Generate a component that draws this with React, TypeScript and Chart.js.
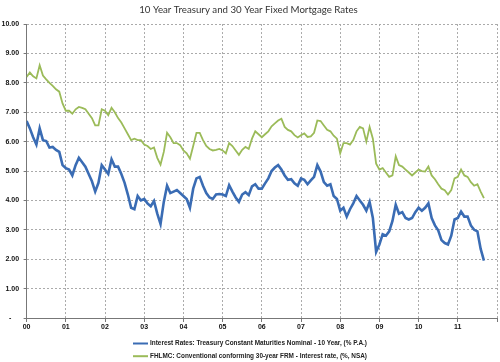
import React, { useEffect, useRef } from 'react';
import { Chart, registerables } from 'chart.js';

Chart.register(...registerables);

const chartTitle = '10 Year Treasury and 30 Year Fixed Mortgage Rates';
const yearLabels = ['00', '01', '02', '03', '04', '05', '06', '07', '08', '09', '10', '11'];
const yTickLabels = ['-', '1.00', '2.00', '3.00', '4.00', '5.00', '6.00', '7.00', '8.00', '9.00', '10.00'];

const seriesNames = [
  'Interest Rates: Treasury Constant Maturities Nominal - 10 Year, (% P.A.)',
  'FHLMC: Conventional conforming 30-year FRM - Interest rate, (%, NSA)',
];
const seriesColors = ['#3a6cb4', '#9bbb59'];

// monthly values, Jan 2000 .. Sep 2011
const treasury10y = [
  6.70, 6.45, 6.15, 5.90, 6.45, 6.05, 6.02, 5.80, 5.82, 5.72, 5.65, 5.20,
  5.10, 5.05, 4.85, 5.20, 5.45, 5.30, 5.15, 4.90, 4.65, 4.30, 4.60, 5.20,
  5.05, 4.90, 5.40, 5.15, 5.15, 4.90, 4.60, 4.20, 3.75, 3.70, 4.15, 4.00,
  4.05, 3.90, 3.80, 3.98, 3.55, 3.20, 3.95, 4.50, 4.25, 4.30, 4.35, 4.25,
  4.15, 4.05, 3.75, 4.40, 4.75, 4.80, 4.50, 4.25, 4.10, 4.05, 4.20, 4.22,
  4.20, 4.15, 4.52, 4.30, 4.10, 3.95, 4.20, 4.28, 4.18, 4.48, 4.55, 4.40,
  4.40, 4.58, 4.75, 5.00, 5.12, 5.20, 5.05, 4.85, 4.70, 4.72, 4.58, 4.50,
  4.75, 4.70, 4.55, 4.68, 4.80, 5.20, 4.98, 4.62, 4.50, 4.55, 4.15, 4.05,
  3.65, 3.75, 3.45, 3.70, 3.90, 4.15, 4.00, 3.85, 3.65, 3.95, 3.40, 2.25,
  2.50, 2.85, 2.80, 2.95, 3.30, 3.85, 3.55, 3.60, 3.40, 3.35, 3.40, 3.60,
  3.75, 3.65, 3.75, 3.90, 3.40, 3.15, 2.98, 2.65, 2.55, 2.50, 2.80, 3.35,
  3.40, 3.62, 3.45, 3.45, 3.15, 3.00, 2.95, 2.35, 1.95,
];

const mortgage30y = [
  8.20, 8.35, 8.22, 8.15, 8.60, 8.25, 8.12, 8.00, 7.90, 7.78, 7.70, 7.30,
  7.05, 7.05, 6.95, 7.10, 7.18, 7.15, 7.10, 6.95, 6.80, 6.55, 6.55, 7.10,
  7.05, 6.90, 7.15, 7.00, 6.80, 6.65, 6.45, 6.25, 6.05, 6.10, 6.05, 6.05,
  5.90, 5.85, 5.75, 5.80, 5.45, 5.22, 5.65, 6.30, 6.15, 5.95, 5.95, 5.88,
  5.70, 5.60, 5.42, 5.85, 6.30, 6.30, 6.05, 5.85, 5.75, 5.70, 5.72, 5.75,
  5.70, 5.60, 5.95, 5.85, 5.70, 5.55, 5.72, 5.82, 5.75, 6.10, 6.35, 6.25,
  6.15, 6.25, 6.35, 6.52, 6.62, 6.72, 6.78, 6.50, 6.40, 6.35, 6.22, 6.14,
  6.22, 6.28, 6.16, 6.18, 6.30, 6.72, 6.70, 6.55, 6.40, 6.35, 6.20, 6.10,
  5.60, 5.95, 5.95, 5.90, 6.05, 6.35, 6.50, 6.45, 6.00, 6.50, 6.10, 5.25,
  5.05, 5.10, 4.95, 4.80, 4.85, 5.50, 5.20, 5.15, 5.05, 4.95, 4.85, 4.95,
  5.05, 5.00, 4.98, 5.15, 4.85, 4.72, 4.55, 4.40, 4.35, 4.20, 4.35, 4.75,
  4.80, 5.05, 4.85, 4.80, 4.62, 4.50, 4.55, 4.30, 4.08,
];

const toPoints = (vals: number[]) => vals.map((v, i) => ({ x: i / 12, y: v }));

const bottomLegend = {
  id: 'bottomLegend',
  afterDraw(chart: any) {
    const ctx = chart.ctx as CanvasRenderingContext2D;
    ctx.save();
    const sample = 15;
    const gap = 2;
    const textMax = 217;
    const blockW = sample + gap + textMax;
    const left = (chart.width - blockW) / 2;
    const top = chart.chartArea.bottom + 25.5;
    chart.data.datasets.forEach((ds: any, i: number) => {
      const y = top + i * 12.7;
      ctx.strokeStyle = ds.borderColor;
      ctx.lineWidth = 2;
      ctx.beginPath();
      ctx.moveTo(left, y);
      ctx.lineTo(left + sample, y);
      ctx.stroke();
      ctx.fillStyle = '#222';
      ctx.font = "bold 7px 'Liberation Sans'";
      ctx.textBaseline = 'middle';
      ctx.textAlign = 'left';
      ctx.fillText(ds.label, left + sample + gap, y, textMax);
    });
    ctx.restore();
  },
};

export default function App() {
  const ref = useRef<HTMLCanvasElement | null>(null);

  useEffect(() => {
    if (!ref.current) return;
    const chart = new Chart(ref.current, {
      type: 'line',
      data: {
        datasets: [
          {
            label: seriesNames[0],
            data: toPoints(treasury10y),
            borderColor: seriesColors[0],
            backgroundColor: seriesColors[0],
            borderWidth: 2.6,
            pointRadius: 0,
            tension: 0,
          },
          {
            label: seriesNames[1],
            data: toPoints(mortgage30y),
            borderColor: seriesColors[1],
            backgroundColor: seriesColors[1],
            borderWidth: 1.8,
            pointRadius: 0,
            tension: 0,
          },
        ],
      },
      options: {
        responsive: false,
        animation: false,
        devicePixelRatio: 1,
        layout: { padding: { left: 0, right: 3, top: 0, bottom: 0 } },
        plugins: {
          legend: { display: false },
          tooltip: { enabled: false },
          title: {
            display: true,
            text: chartTitle,
            color: '#333',
            font: { family: 'Lato', size: 9.7, weight: 'normal' },
            padding: { top: 4, bottom: 8.4 },
          },
        },
        scales: {
          x: {
            type: 'linear',
            min: 0,
            max: 12,
            afterFit: (s: any) => { s.height = 44; },
            ticks: {
              stepSize: 1,
              autoSkip: false,
              maxRotation: 0,
              padding: 1,
              color: '#111',
              font: { family: 'Liberation Sans', size: 7, weight: 'bold' },
              callback: (v: any) => yearLabels[v] ?? '',
            },
            grid: { color: '#aaaaaa', tickLength: 4, tickColor: '#777' },
            border: { display: true, color: '#777', width: 1, dash: [2, 2] },
          },
          y: {
            min: 0,
            max: 10,
            afterFit: (s: any) => { s.width = 26.6; },
            ticks: {
              stepSize: 1,
              padding: 4.5,
              color: '#111',
              font: { family: 'Liberation Sans', size: 7, weight: 'bold' },
              callback: (v: any) => (v === 0 ? yTickLabels[0] + '    ' : yTickLabels[v] ?? ''),
            },
            grid: { color: '#aaaaaa', tickLength: 3, tickColor: '#777' },
            border: { display: true, color: '#777', width: 1, dash: [2, 2] },
          },
        },
      },
      plugins: [bottomLegend],
    });
    return () => chart.destroy();
  }, []);

  return (
    <div style={{ position: 'absolute', left: 0, top: 0, width: 500, height: 362, background: '#fff' }}>
      <canvas ref={ref} width={500} height={362} />
    </div>
  );
}
